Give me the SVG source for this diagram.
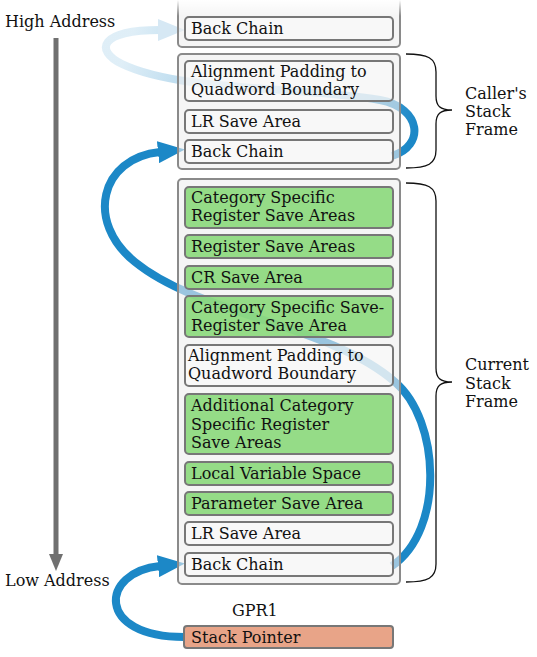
<svg xmlns="http://www.w3.org/2000/svg" width="537" height="657" viewBox="0 0 537 657">
<style>
text{font-family:"DejaVu Serif","Liberation Serif",serif;font-size:16px;fill:#111}
.frame{fill:#eeeeee;fill-opacity:0.6;stroke:#8a8a8a;stroke-width:2}
.box{fill:#fafafa;fill-opacity:0.6;stroke:#777;stroke-width:2}
.g{fill:#88d878;fill-opacity:0.88}
.sp{fill:#e8a488;stroke:#777;stroke-width:2}
.brace{fill:none;stroke:#111;stroke-width:1.3}
.curve{fill:none;stroke-width:8;stroke-linecap:butt}
</style>
<defs>
<marker id="ah" markerUnits="userSpaceOnUse" markerWidth="28" markerHeight="22" refX="2" refY="11" orient="auto" viewBox="0 0 28 22"><path d="M0,0 L27,11 L0,22 Z" fill="#1c88c7"/></marker>
<marker id="ahf" markerUnits="userSpaceOnUse" markerWidth="28" markerHeight="22" refX="2" refY="11" orient="auto" viewBox="0 0 28 22"><path d="M0,0 L27,11 L0,22 Z" fill="#d6e8f4"/></marker>
<linearGradient id="fade" gradientUnits="userSpaceOnUse" x1="410" y1="140" x2="130" y2="40">
<stop offset="0" stop-color="#1c88c7" stop-opacity="1"/>
<stop offset="0.35" stop-color="#1c88c7" stop-opacity="0.6"/>
<stop offset="1" stop-color="#1c88c7" stop-opacity="0.14"/>
</linearGradient>
<linearGradient id="topfade" x1="0" y1="0" x2="0" y2="1">
<stop offset="0" stop-color="#fff" stop-opacity="1"/>
<stop offset="1" stop-color="#fff" stop-opacity="0"/>
</linearGradient>
</defs>

<g id="connectors">
<path class="curve" stroke="url(#fade)" marker-end="url(#ahf)" d="M392,156 C425,146 422,108 380,100 C300,86 180,92 122,64 C94,50 100,30 160,30"/>
<path class="curve" stroke="#1c88c7" marker-end="url(#ah)" d="M392,566 C445,530 440,420 395,382 C330,325 200,315 135,262 C85,222 100,158 160,152"/>
<path class="curve" stroke="#1c88c7" marker-end="url(#ah)" d="M184,637 C95,637 100,572 160,566"/>
</g>

<g id="address-axis">
<text x="5" y="27">High Address</text>
<line x1="56" y1="38" x2="56" y2="556" stroke="#707070" stroke-width="5"/>
<path d="M49,554 L63,554 L56,571 Z" fill="#707070"/>
<text x="5" y="586">Low Address</text>
</g>

<g id="prev-frame">
<rect class="frame" x="178" y="-10" width="222" height="57" rx="4"/>
<g id="prev-backchain"><rect class="box" x="185" y="17" width="208" height="23" rx="4"/><text x="191" y="34">Back Chain</text></g>
<rect x="170" y="0" width="240" height="16" fill="url(#topfade)"/>
</g>

<g id="caller-frame">
<rect class="frame" x="178" y="54" width="222" height="115" rx="4"/>
<g id="c-align"><rect class="box" x="185" y="61" width="208" height="40" rx="4"/><text x="191" y="77">Alignment Padding to</text><text x="191" y="95">Quadword Boundary</text></g>
<g id="c-lr"><rect class="box" x="185" y="110" width="208" height="23" rx="4"/><text x="191" y="127">LR Save Area</text></g>
<g id="c-bc"><rect class="box" x="185" y="140" width="208" height="23" rx="4"/><text x="191" y="157">Back Chain</text></g>
</g>

<g id="caller-brace">
<path class="brace" d="M406,54 C428,54 436,58 436,72 L436,96 C436,106 440,110 452,110 C440,110 436,114 436,124 L436,150 C436,164 428,168 406,168"/>
<text x="465" y="99">Caller's</text><text x="465" y="117">Stack</text><text x="465" y="135">Frame</text>
</g>

<g id="current-frame">
<rect class="frame" x="178" y="179" width="222" height="405" rx="4"/>
<g id="n1"><rect class="box g" x="185" y="187" width="208" height="41" rx="4"/><text x="191" y="203">Category Specific</text><text x="191" y="221">Register Save Areas</text></g>
<g id="n2"><rect class="box g" x="185" y="235" width="208" height="23" rx="4"/><text x="191" y="252">Register Save Areas</text></g>
<g id="n3"><rect class="box g" x="185" y="266" width="208" height="23" rx="4"/><text x="191" y="283">CR Save Area</text></g>
<g id="n4"><rect class="box g" x="185" y="296" width="208" height="41" rx="4"/><text x="191" y="313">Category Specific Save-</text><text x="191" y="331">Register Save Area</text></g>
<g id="n5"><rect class="box" x="185" y="345" width="208" height="41" rx="4"/><text x="188" y="361">Alignment Padding to</text><text x="188" y="379">Quadword Boundary</text></g>
<g id="n6"><rect class="box g" x="185" y="394" width="208" height="60" rx="4"/><text x="191" y="411">Additional Category</text><text x="191" y="430">Specific Register</text><text x="191" y="448">Save Areas</text></g>
<g id="n7"><rect class="box g" x="185" y="462" width="208" height="23" rx="4"/><text x="191" y="479">Local Variable Space</text></g>
<g id="n8"><rect class="box g" x="185" y="492" width="208" height="23" rx="4"/><text x="191" y="509">Parameter Save Area</text></g>
<g id="n9"><rect class="box" x="185" y="522" width="208" height="23" rx="4"/><text x="191" y="539">LR Save Area</text></g>
<g id="n10"><rect class="box" x="185" y="553" width="208" height="23" rx="4"/><text x="191" y="570">Back Chain</text></g>
</g>

<g id="current-brace">
<path class="brace" d="M406,183 C428,183 436,187 436,201 L436,368 C436,378 440,382 452,382 C440,382 436,386 436,396 L436,564 C436,578 428,582 406,582"/>
<text x="465" y="370">Current</text><text x="465" y="389">Stack</text><text x="465" y="407">Frame</text>
</g>

<g id="gpr1">
<text x="232" y="616">GPR1</text>
<rect class="sp" x="184" y="626" width="209" height="22" rx="3"/>
<text x="191" y="643">Stack Pointer</text>
</g>
</svg>
